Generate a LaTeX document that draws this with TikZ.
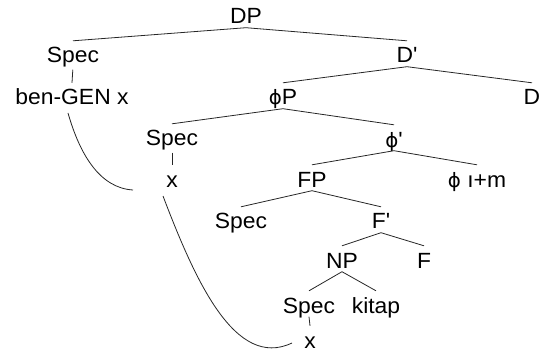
\documentclass[tikz,border=0pt]{standalone}
\usepackage{fontspec}
\setmainfont{Liberation Sans}[FakeStretch=1.04]
\newfontfamily\phifont{DejaVu Sans}[Scale=0.9]
\newcommand{\myphi}{{\phifont ϕ}}
\newcommand{\pr}{\textquotesingle}
\begin{document}
\begin{tikzpicture}[x=1pt,y=-1pt,
  tn/.style={font=\fontsize{22}{26}\selectfont, inner sep=0pt, text height=22pt, text depth=3.5pt, anchor=base},
  br/.style={line width=0.8pt, draw=black!85},
  tick/.style={line width=0.8pt, draw=black!85, shorten <=3pt}]
\useasboundingbox (0,0) rectangle (539,353);
\node[tn] (DP) at (246,24) {DP};
\node[tn] (spec1) at (73,63) {Spec};
\node[tn] (ben) at (72,105) {ben-GEN x};
\node[tn] (Db) at (407,63) {D\pr};
\node[tn] (phiP) at (283,105) {\myphi P};
\node[tn] (D) at (532,105) {D};
\node[tn] (spec2) at (172,146) {Spec};
\node[tn] (x1) at (172,187) {x};
\node[tn] (phib) at (394,147) {\myphi\pr};
\node[tn] (FP) at (312,187) {FP};
\node[tn] (phiim) at (477,187) {\myphi\ ı+m};
\node[tn] (spec3) at (241,229) {Spec};
\node[tn] (Fb) at (381,229) {F\pr};
\node[tn] (NP) at (342,268) {NP};
\node[tn] (F) at (424,268) {F};
\node[tn] (spec4) at (309,313) {Spec};
\node[tn] (kitap) at (376,313) {kitap};
\node[tn] (x2) at (310,348) {x};
\coordinate (c1s) at (68,113);
\coordinate (c1e) at (133,190);
\coordinate (c2s) at (163,196);
\coordinate (c2e) at (292,343);
\draw[br] (DP.south) -- (spec1.north);
\draw[br] (DP.south) -- (Db.north);
\draw[tick] (spec1.south) -- (ben.north);
\draw[br] (Db.south) -- (phiP.north);
\draw[br] (Db.south) -- (D.north);
\draw[br] (phiP.south) -- (spec2.north);
\draw[br] (phiP.south) -- (phib.north);
\draw[tick] (spec2.south) -- (x1.north);
\draw[br] (phib.south) -- (FP.north);
\draw[br] (phib.south) -- (phiim.north);
\draw[br] (FP.south) -- (spec3.north);
\draw[br] (FP.south) -- (Fb.north);
\draw[br] (Fb.south) -- (NP.north);
\draw[br] (Fb.south) -- (F.north);
\draw[br] (NP.south) -- (spec4.north);
\draw[br] (NP.south) -- (kitap.north);
\draw[br] (spec4.south) -- (x2.north);
\draw[br] (c1s) .. controls (80,155) and (100,188) .. (c1e);
\draw[br] (c2s) .. controls (195,280) and (235,370) .. (c2e);
\end{tikzpicture}
\end{document}
